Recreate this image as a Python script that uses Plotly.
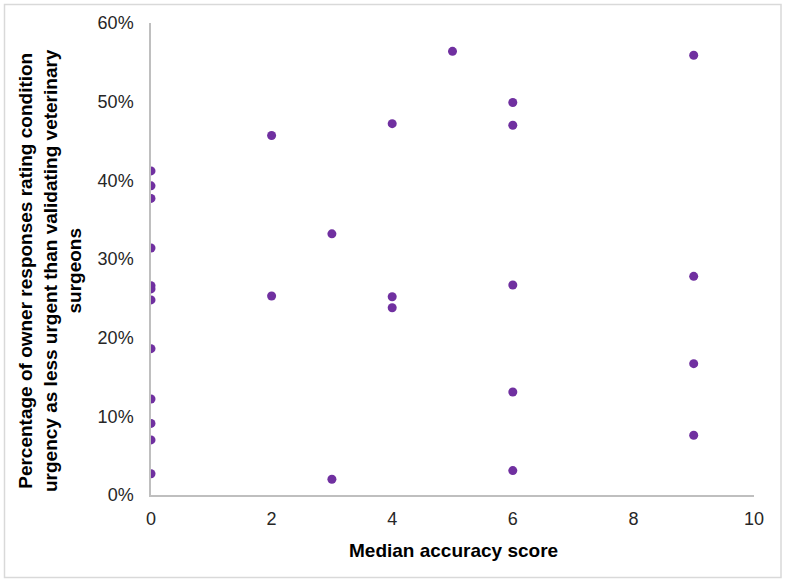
import plotly.graph_objects as go

# Data
x_scores = [0, 0, 0, 0, 0, 0, 0, 0, 0, 0, 0, 0,
            2, 2,
            3, 3,
            4, 4, 4,
            5,
            6, 6, 6, 6, 6,
            9, 9, 9, 9]
pct_less_urgent = [41.2, 39.3, 37.7, 31.4, 26.6, 26.2, 24.8, 18.6, 12.2, 9.1, 7.0, 2.7,
                   45.7, 25.3,
                   33.2, 2.0,
                   47.2, 25.2, 23.8,
                   56.4,
                   49.9, 47.0, 26.7, 13.1, 3.1,
                   55.9, 27.8, 16.7, 7.6]
x_ticks = [0, 2, 4, 6, 8, 10]
y_ticks = [0.0, 0.1, 0.2, 0.3, 0.4, 0.5, 0.6]

x_title = "Median accuracy score"
y_title = ("Percentage of owner responses rating condition<br>"
           "urgency as less urgent than validating veterinary<br>surgeons")

W, H = 786, 583
L, R, T, B = 151, 32, 23, 88
pw, ph = W - L - R, H - T - B

def px(xp):
    return (xp - L) / pw

def py(yp):
    return (H - B - yp) / ph

fig = go.Figure()
fig.add_trace(go.Scatter(
    x=x_scores,
    y=[v / 100 for v in pct_less_urgent],
    mode="markers",
    marker=dict(color="#7030A0", size=9, line=dict(width=0)),
    showlegend=False,
    hoverinfo="skip",
))

axis_font = dict(family="Liberation Sans, Arial, sans-serif", size=18, color="#262626")

fig.update_layout(
    width=W, height=H,
    margin=dict(l=L, r=R, t=T, b=B),
    paper_bgcolor="white",
    plot_bgcolor="white",
    xaxis=dict(
        range=[0, 10], tickvals=x_ticks, showgrid=False, zeroline=False,
        showline=True, linecolor="#bfbfbf", linewidth=1.5,
        ticks="outside", ticklen=7, tickcolor="rgba(0,0,0,0)",
        tickfont=axis_font, fixedrange=True,
    ),
    yaxis=dict(
        range=[0, 0.6], tickvals=y_ticks, tickformat=".0%", showgrid=False,
        zeroline=False, showline=True, linecolor="#bfbfbf", linewidth=1.5,
        ticks="outside", ticklen=12, tickcolor="rgba(0,0,0,0)",
        tickfont=axis_font, fixedrange=True,
    ),
    shapes=[dict(
        type="rect", xref="paper", yref="paper",
        x0=px(4.5), x1=px(781), y0=py(577.5), y1=py(4.5),
        line=dict(color="#d9d9d9", width=1.5), fillcolor="rgba(0,0,0,0)",
        layer="below",
    )],
    annotations=[
        dict(
            text="<b>" + x_title + "</b>", xref="paper", yref="paper",
            x=px(453), y=py(550), xanchor="center", yanchor="middle",
            showarrow=False,
            font=dict(family="Liberation Sans, Arial, sans-serif", size=19, color="#000000"),
        ),
        dict(
            text="<b>" + y_title + "</b>", xref="paper", yref="paper",
            x=px(50), y=py(271), xanchor="center", yanchor="middle",
            textangle=-90, showarrow=False, align="center",
            font=dict(family="Liberation Sans, Arial, sans-serif", size=19, color="#000000"),
        ),
    ],
)

fig.write_html("out.html")
